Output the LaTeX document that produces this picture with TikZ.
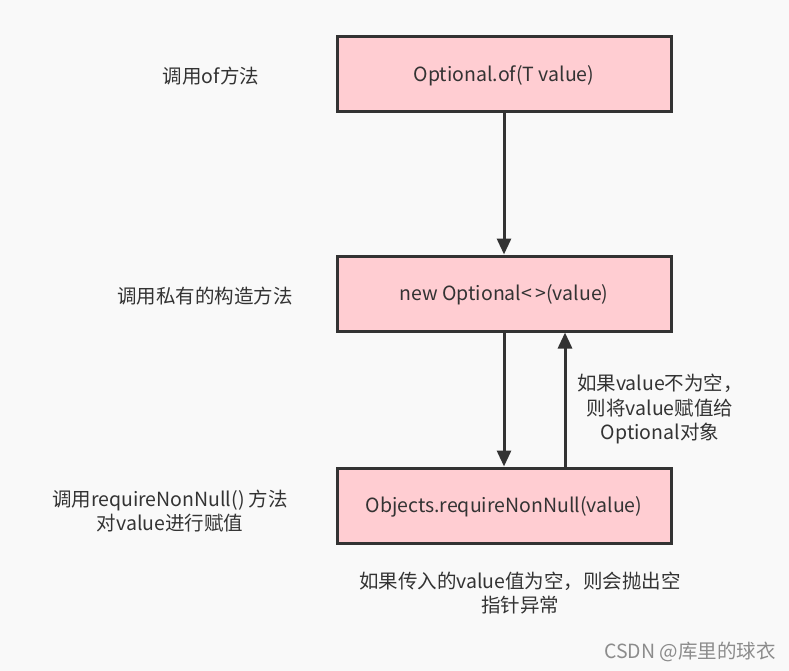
\documentclass[tikz,border=0pt]{standalone}
\usepackage{fontspec}
\setmainfont{Noto Sans CJK SC}
\usetikzlibrary{arrows.meta}
\definecolor{bg}{HTML}{F9F9F9}
\definecolor{boxfill}{HTML}{FFCDD2}
\definecolor{edge}{HTML}{333333}
\definecolor{txt}{HTML}{333333}
\tikzset{
  stepbox/.style={draw=edge, line width=3pt, fill=boxfill, minimum width=334pt, minimum height=75pt, inner sep=0pt, text=txt, text height=15pt, text depth=1pt, font=\fontsize{19.5}{24}\selectfont},
  note/.style={text=txt, font=\fontsize{19.5}{24.5}\selectfont, align=center, inner sep=0pt},
  link/.style={draw=edge, line width=3pt, -{Triangle[length=16pt,width=14pt]}},
}
\begin{document}
\begin{tikzpicture}[x=1pt,y=-1pt]
\fill[bg] (0,0) rectangle (789,671);
\useasboundingbox (0,0) rectangle (789,671);
\node[stepbox] (b1) at (504,74.5) {Optional.of(T value)};
\node[stepbox] (b2) at (504,293.5) {new Optional<\,>(value)};
\node[stepbox] (b3) at (504,505.5) {Objects.requireNonNull(value)};
\draw[link] (b1.south) -- (b2.north);
\draw[link] (b2.south) -- (b3.north);
\draw[link] ([xshift=61pt]b3.north) -- ([xshift=61pt]b2.south);
\node[note] (l1) at (211,76) {调用of方法};
\node[note] (l2) at (205,296) {调用私有的构造方法};
\node[note] (l3) at (170,511) {调用requireNonNull() 方法\\对value进行赋值};
\node[note] (r1) at (660,409) {如果value不为空，\\则将value赋值给\\Optional对象};
\node[note] (n1) at (520,593) {如果传入的value值为空，则会抛出空\\指针异常};
\node[font=\fontsize{19.5}{22}\selectfont, text=black!45, inner sep=0pt] (wm) at (690,652) {CSDN @库里的球衣};
\end{tikzpicture}
\end{document}
